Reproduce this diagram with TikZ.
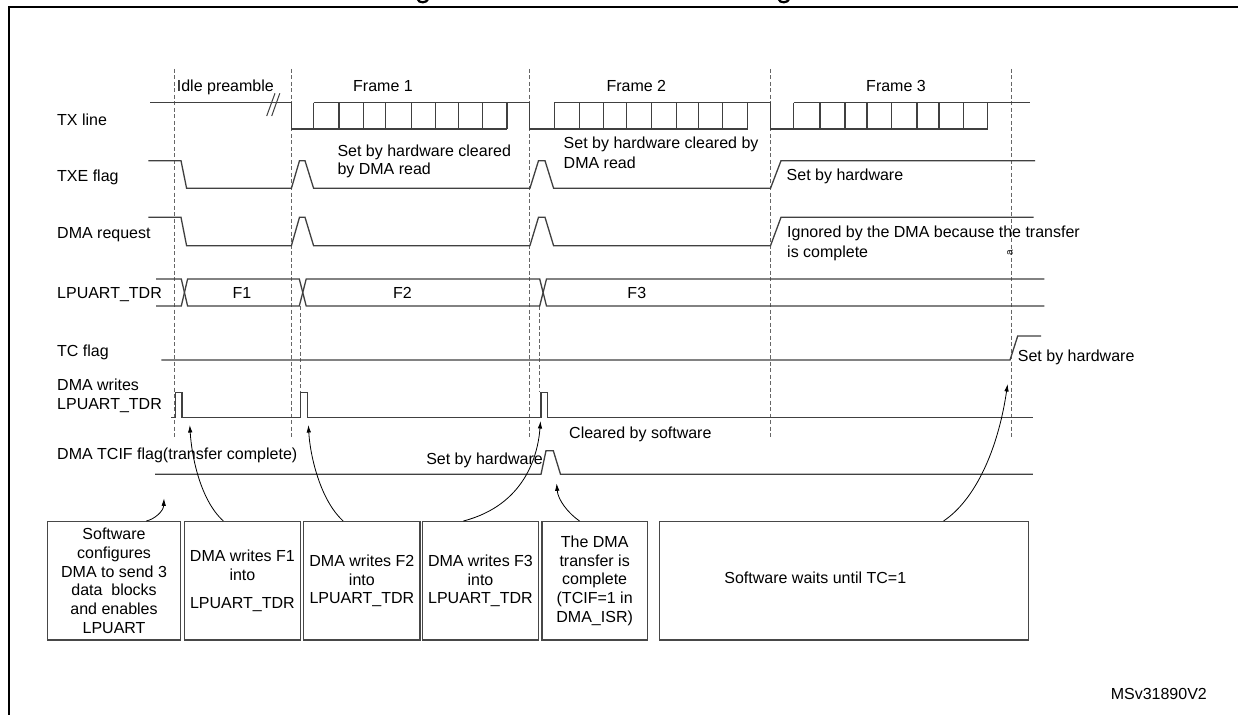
\documentclass[tikz,border=0pt]{standalone}
\usepackage{fontspec}
\setmainfont{Liberation Sans}
\usetikzlibrary{arrows.meta}
\begin{document}
\begin{tikzpicture}[x=1pt,y=-1pt, font=\fontsize{16}{18.7}\selectfont,
  sig/.style={draw=black!75, line width=1.3pt, line join=miter},
  dsh/.style={draw=black!60, line width=1pt, dash pattern=on 4pt off 2.5pt},
  lbl/.style={inner sep=0pt, anchor=base west},
  lblc/.style={inner sep=0pt, anchor=base},
  lble/.style={inner sep=0pt, anchor=base east},
  box/.style={draw=black!72, line width=1.4pt, minimum height=118.3pt, inner sep=0pt, align=center},
  arr/.style={draw=black, line width=0.8pt, -{Latex[length=7.5pt,width=4.5pt]}}
]
\useasboundingbox (0,0) rectangle (1238,714);
\fill[white] (0,0) rectangle (1238,714);
% outer frame (cut off at the picture edges)
\draw[line width=2.2pt] (8.7,720) -- (8.7,6.7) -- (1245,6.7);
% descender tails of the cut-off title
\draw[line width=2.2pt] (417.5,-1) .. controls (418.5,3.5) and (427,3.5) .. (428.5,-1.5);
\draw[line width=2.2pt] (778.5,-1) .. controls (779.5,3.5) and (788,3.5) .. (789.5,-1.5);

% vertical dashed time markers
\foreach \x in {174.4,291.4,529.5,770.5,1011.3}
  \draw[dsh] (\x,69) -- (\x,437);
\draw[dsh] (300.5,306) -- (300.5,392);
\draw[dsh] (539,306) -- (539,392);

% row labels
\node[lbl] (lTX) at (57,125.5) {TX line};
\node[lbl] (lTXE) at (57,181.5) {TXE flag};
\node[lbl] (lREQ) at (57,238.5) {DMA request};
\node[lbl] (lTDR) at (57,298.5) {LPUART\_TDR};
\node[lbl] (lTC) at (57,356.5) {TC flag};
\node[lbl] (lDW1) at (57,390.5) {DMA writes};
\node[lbl] (lDW2) at (57,409.5) {LPUART\_TDR};
\node[lbl] (lTCIF) at (57,459.5) {DMA TCIF flag(transfer complete)};

% frame labels
\node[lbl] (idle) at (176.7,91.5) {Idle preamble};
\node[lblc] (fr1) at (383,91.5) {Frame 1};
\node[lblc] (fr2) at (636.3,91.5) {Frame 2};
\node[lblc] (fr3) at (896,91.5) {Frame 3};

% TX line
\draw[sig] (150,102.7) -- (291.4,102.7) -- (291.4,129) -- (507,129);
\draw[sig] (313.6,102.7) -- (529.5,102.7) -- (529.5,129) -- (747.6,129);
\draw[sig] (554.3,102.7) -- (770.5,102.7) -- (770.5,129) -- (987.5,129);
\draw[sig] (793.8,102.7) -- (1029.6,102.7);
\foreach \x in {313.6,338.9,363.8,385.5,411.2,435.3,458.7,482.4,507,
                554.3,579.5,603.8,626.2,651.4,676.6,698.6,722.8,747.6,
                793.8,819.9,845.1,867.1,891.8,917,939,963.2,987.5}
  \draw[sig] (\x,102.7) -- (\x,129);
% break marks on the idle line
\draw[sig, line width=1pt] (266.7,116) -- (275,93.3);
\draw[sig, line width=1pt] (271.7,116) -- (279.8,93.3);

% TXE flag
\draw[sig] (148.3,160.7) -- (181,160.7) -- (186.6,188.3) -- (291.4,188.3) -- (299.5,160.7) -- (305,160.7) -- (313.6,188.3) -- (529.9,188.3) -- (538.5,160.7) -- (545,160.7) -- (553.6,188.3) -- (770.5,188.3) -- (781,160.7) -- (1035,160.7);
\node[lbl] (t1a) at (337.3,156.5) {Set by hardware cleared};
\node[lbl] (t1b) at (337.3,174.8) {by DMA read};
\node[lbl] (t2a) at (563.5,148.8) {Set by hardware cleared by};
\node[lbl] (t2b) at (563.5,168.2) {DMA read};
\node[lbl] (t3) at (786.5,180.5) {Set by hardware};

% DMA request
\draw[sig] (148.3,217.3) -- (181,217.3) -- (186.6,245.7) -- (291.4,245.7) -- (299.5,217.3) -- (305,217.3) -- (313.6,245.7) -- (529.9,245.7) -- (538.5,217.3) -- (545,217.3) -- (553.6,245.7) -- (770.5,245.7) -- (781,217.3) -- (1033.7,217.3);
\node[lbl] (ign1) at (787,237.8) {Ignored by the DMA because the transfer};
\node[lbl] (ign2) at (787,257.2) {is complete};
\node[inner sep=0pt, rotate=90, font=\fontsize{10}{10}\selectfont] (stray) at (1010,253) {a};

% LPUART_TDR bus
\draw[sig] (156,279) -- (181.3,279) -- (187.6,306) -- (299.3,306) -- (306.2,279) -- (539.7,279) -- (546.5,306) -- (1044.3,306);
\draw[sig] (156,306) -- (181.3,306) -- (187.6,279) -- (299.3,279) -- (306.2,306) -- (539.7,306) -- (546.5,279) -- (1044.3,279);
\node[lblc] (F1) at (242,298.2) {F1};
\node[lblc] (F2) at (402.5,298.2) {F2};
\node[lblc] (F3) at (636.8,298.2) {F3};

% TC flag
\draw[sig] (161.3,360) -- (1010,360) -- (1017.7,336) -- (1041,336);
\node[lbl] (tc) at (1017.7,361.2) {Set by hardware};

% DMA writes LPUART_TDR
\draw[sig] (171,417.7) -- (175.2,417.7) -- (175.2,392.3) -- (181.9,392.3) -- (181.9,417.7) -- (300.5,417.7) -- (300.5,392.3) -- (307.6,392.3) -- (307.6,417.7) -- (541,417.7) -- (541,392.3) -- (547.6,392.3) -- (547.6,417.7) -- (1032.8,417.7);
\node[lbl] (clr) at (569,438.2) {Cleared by software};

% DMA TCIF flag
\draw[sig] (155,474.3) -- (541,474.3) -- (546,450.7) -- (553.3,450.7) -- (560.5,474.3) -- (1032.8,474.3);
\node[lble] (tcif) at (543,464.5) {Set by hardware};

% step boxes
\node[box, minimum width=133.3pt] (b1) at (114.05,580.85) {Software\\configures\\DMA to send 3\\data\ \ blocks\\and enables\\LPUART};
\node[box, minimum width=116.2pt] (b2) at (242.4,580.85) {DMA writes F1\\into\\[9.5pt]LPUART\_TDR};
\node[box, minimum width=116.3pt] (b3) at (361.85,580.85) {DMA writes F2\\into\\LPUART\_TDR};
\node[box, minimum width=116.3pt] (b4) at (480.45,580.85) {DMA writes F3\\into\\LPUART\_TDR};
\node[box, minimum width=105.3pt] (b5) at (594.65,580.85) {The DMA\\transfer is\\complete\\(TCIF=1 in\\DMA\_ISR)};
\node[box, minimum width=369pt] (b6) at (843.7,580.85) {};
\node[lblc] (t6) at (815.3,583.8) {Software waits until TC=1};

\node[lblc] (ms) at (1158.8,699.5) {MSv31890V2};

% arrow tips
\coordinate (tip1) at (164,498.3);
\coordinate (tip2) at (189.8,425);
\coordinate (tip3) at (308.4,425);
\coordinate (tip4) at (540.5,421);
\coordinate (tip5) at (556.6,483.3);
\coordinate (tip6) at (1007.6,384);

\draw[arr] ([xshift=32.3pt]b1.north) .. controls (155,519) and (163.5,511) .. (tip1);
\draw[arr] ([xshift=-19pt]b2.north) .. controls (200,500) and (191.5,455) .. (tip2);
\draw[arr] ([xshift=-18.65pt]b3.north) .. controls (320,500) and (310,455) .. (tip3);
\draw[arr] ([xshift=-17.05pt]b4.north) .. controls (525,505) and (538,455) .. (tip4);
\draw[arr] ([xshift=-15.15pt]b5.north) .. controls (568,513) and (558,500) .. (tip5);
\draw[arr] ([xshift=99.8pt]b6.north) .. controls (975,500) and (998,450) .. (tip6);
\end{tikzpicture}
\end{document}
